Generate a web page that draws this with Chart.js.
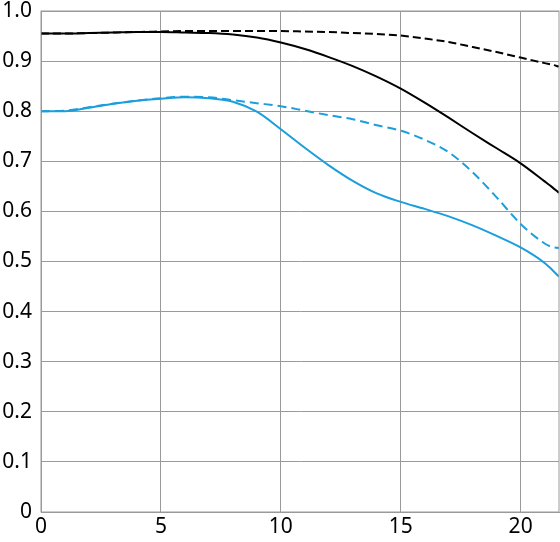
<!DOCTYPE html>
<html>
<head>
<meta charset="UTF-8">
<title>MTF</title>
<script src="https://cdn.jsdelivr.net/npm/chart.js"></script>
<style>
  html, body { margin: 0; padding: 0; background: #fff; }
  #box { width: 560px; height: 542px; }
</style>
</head>
<body>
<div id="box"><canvas id="mtf"></canvas></div>
<script>
// image height (mm) and the four curves
const xs = [0, 1, 2, 3, 4, 5, 6, 7, 8, 9, 10, 11, 12, 13, 14, 15, 16, 17, 18, 19, 20, 21, 21.3, 21.6];
const blackSolid = [0.955, 0.955, 0.956, 0.957, 0.958, 0.958, 0.957, 0.956, 0.953, 0.947, 0.937, 0.924, 0.908, 0.890, 0.869, 0.845, 0.817, 0.787, 0.756, 0.726, 0.696, 0.660, 0.649, 0.637];
const blackDash  = [0.955, 0.955, 0.956, 0.957, 0.958, 0.959, 0.960, 0.960, 0.960, 0.960, 0.960, 0.959, 0.958, 0.956, 0.954, 0.951, 0.945, 0.938, 0.928, 0.918, 0.907, 0.896, 0.893, 0.889];
const blueSolid  = [0.800, 0.800, 0.807, 0.815, 0.821, 0.825, 0.828, 0.826, 0.819, 0.799, 0.764, 0.727, 0.692, 0.661, 0.636, 0.619, 0.605, 0.590, 0.572, 0.551, 0.528, 0.497, 0.484, 0.470];
const blueDash   = [0.800, 0.801, 0.808, 0.815, 0.821, 0.826, 0.829, 0.828, 0.822, 0.816, 0.810, 0.801, 0.792, 0.784, 0.772, 0.761, 0.743, 0.718, 0.678, 0.628, 0.575, 0.536, 0.529, 0.527];
const xTicks = [0, 5, 10, 15, 20];
const yTicks = [0, 0.1, 0.2, 0.3, 0.4, 0.5, 0.6, 0.7, 0.8, 0.9, 1.0];

const BLUE = '#1a9edc';
const GRID = '#9a9a9a';

function pts(arr) { return xs.map((x, i) => ({ x: x, y: arr[i] })); }

function line(data, color, dash) {
  return {
    data: pts(data),
    borderColor: color,
    borderWidth: 2,
    borderDash: dash,
    pointRadius: 0,
    fill: false,
    cubicInterpolationMode: 'monotone'
  };
}

// draws the box round the plot area
const frame = {
  id: 'frame',
  afterDraw(chart) {
    const a = chart.chartArea, c = chart.ctx;
    c.save();
    c.strokeStyle = GRID;
    c.lineWidth = 1;
    c.strokeRect(a.left, a.top, a.right - a.left, a.bottom - a.top);
    c.restore();
  }
};

new Chart(document.getElementById('mtf'), {
  type: 'line',
  data: {
    datasets: [
      line(blueSolid, BLUE, []),
      line(blueDash, BLUE, [9, 5]),
      line(blackSolid, '#000', []),
      line(blackDash, '#000', [8, 4])
    ]
  },
  options: {
    responsive: true,
    maintainAspectRatio: false,
    animation: false,
    layout: { padding: { top: 11, right: 1, bottom: 0, left: 0 } },
    plugins: { legend: { display: false }, tooltip: { enabled: false } },
    scales: {
      x: {
        type: 'linear',
        min: 0,
        max: 21.6,
        afterBuildTicks: s => { s.ticks = xTicks.map(v => ({ value: v })); },
        afterFit: s => { s.height = 30; s.paddingLeft = 0; s.paddingRight = 0; },
        ticks: { color: '#000', font: { family: 'Noto Sans', size: 21 }, padding: 2, maxRotation: 0 },
        grid: { color: GRID, drawTicks: false },
        border: { color: GRID }
      },
      y: {
        min: 0,
        max: 1,
        afterBuildTicks: s => { s.ticks = yTicks.map(v => ({ value: v })); },
        afterFit: s => { s.width = 41; s.paddingTop = 0; s.paddingBottom = 0; },
        ticks: {
          color: '#000',
          font: { family: 'Noto Sans', size: 21 },
          padding: 9,
          callback: v => v === 0 ? '0' : v.toFixed(1)
        },
        grid: { color: GRID, drawTicks: false },
        border: { color: GRID }
      }
    }
  },
  plugins: [frame]
});
</script>
</body>
</html>
